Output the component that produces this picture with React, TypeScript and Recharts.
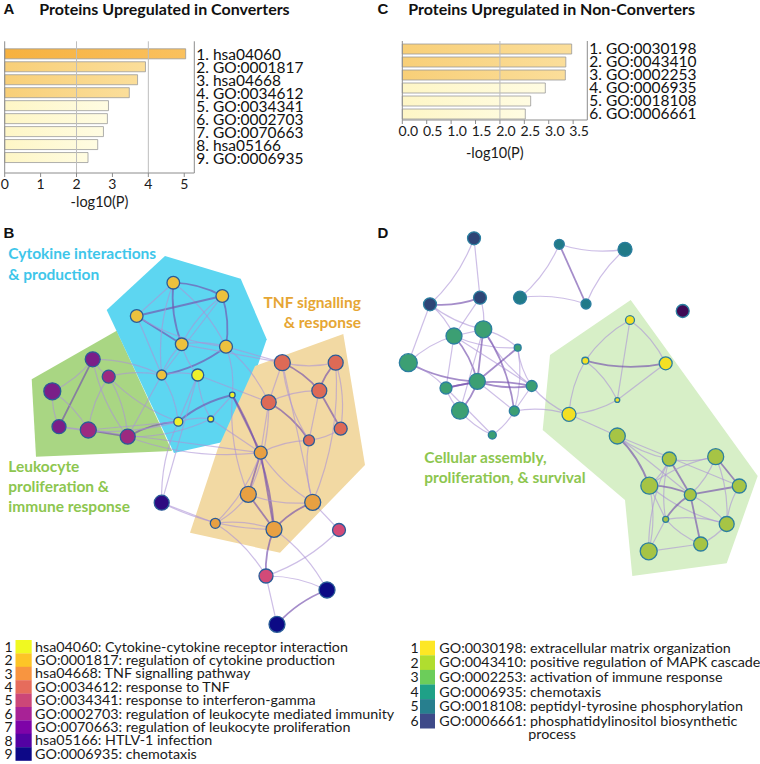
import React from 'react';
import {
  BarChart,
  Bar,
  XAxis,
  YAxis,
  ZAxis,
  Cell,
  ReferenceLine,
  ScatterChart,
  Scatter,
} from 'recharts';

// ---- panel A / C: enrichment bars ----
const termsA = ['hsa04060', 'GO:0001817', 'hsa04668', 'GO:0034612', 'GO:0034341', 'GO:0002703', 'GO:0070663', 'hsa05166', 'GO:0006935'];
const logPA = [5.04, 3.92, 3.7, 3.47, 2.89, 2.86, 2.75, 2.59, 2.32];
const ticksA = [0, 1, 2, 3, 4, 5];
const gridA = [2, 4];

const termsC = ['GO:0030198', 'GO:0043410', 'GO:0002253', 'GO:0006935', 'GO:0018108', 'GO:0006661'];
const logPC = [3.47, 3.35, 3.34, 2.93, 2.63, 2.52];
const ticksC = [0, 0.5, 1, 1.5, 2, 2.5, 3, 3.5];
const gridC = [2];

// ---- legends ----
const legendB = [
  'hsa04060: Cytokine-cytokine receptor interaction',
  'GO:0001817: regulation of cytokine production',
  'hsa04668: TNF signalling pathway',
  'GO:0034612: response to TNF',
  'GO:0034341: response to interferon-gamma',
  'GO:0002703: regulation of leukocyte mediated immunity',
  'GO:0070663: regulation of leukocyte proliferation',
  'hsa05166: HTLV-1 infection',
  'GO:0006935: chemotaxis',
];
const legendD = [
  'GO:0030198: extracellular matrix organization',
  'GO:0043410: positive regulation of MAPK cascade',
  'GO:0002253: activation of immune response',
  'GO:0006935: chemotaxis',
  'GO:0018108: peptidyl-tyrosine phosphorylation',
  'GO:0006661: phosphatidylinositol biosynthetic',
];

// ---- panel B network (layout coords, t = term cluster, z = node size) ----
const nodesB = [
  { x: 173.3, y: 282.7, t: 2, z: 40 },
  { x: 222.3, y: 296, t: 2, z: 40 },
  { x: 136.7, y: 316, t: 2, z: 40 },
  { x: 181.7, y: 344.3, t: 2, z: 40 },
  { x: 226, y: 346.7, t: 2, z: 42 },
  { x: 161.7, y: 375, t: 2, z: 25 },
  { x: 197.7, y: 375, t: 1, z: 36 },
  { x: 232.3, y: 395, t: 1, z: 8 },
  { x: 178.3, y: 421.7, t: 1, z: 20 },
  { x: 210.7, y: 419, t: 1, z: 9 },
  { x: 92.7, y: 359.3, t: 7, z: 56 },
  { x: 108.7, y: 376.7, t: 6, z: 42 },
  { x: 52.3, y: 391.3, t: 7, z: 72 },
  { x: 59, y: 426.7, t: 7, z: 49 },
  { x: 88.3, y: 430, t: 6, z: 64 },
  { x: 127.7, y: 436.7, t: 6, z: 56 },
  { x: 282.3, y: 362.7, t: 4, z: 64 },
  { x: 335.7, y: 362.7, t: 4, z: 56 },
  { x: 319.3, y: 390.7, t: 4, z: 56 },
  { x: 268.7, y: 402.3, t: 4, z: 56 },
  { x: 340.7, y: 428.7, t: 4, z: 42 },
  { x: 309, y: 440.3, t: 4, z: 30 },
  { x: 260.7, y: 452.7, t: 3, z: 42 },
  { x: 248.3, y: 494.3, t: 3, z: 64 },
  { x: 312.7, y: 502.3, t: 3, z: 64 },
  { x: 215.3, y: 523.3, t: 3, z: 25 },
  { x: 274, y: 529.3, t: 3, z: 64 },
  { x: 161.7, y: 502.7, t: 8, z: 56 },
  { x: 327, y: 590, t: 9, z: 64 },
  { x: 277, y: 624.3, t: 9, z: 64 },
  { x: 339, y: 530, t: 5, z: 42 },
  { x: 266, y: 576, t: 5, z: 49 },
];
const edgesB = [
  [0, 1, 2], [0, 2, 1], [0, 3, 2], [0, 4, 1], [1, 2, 2], [1, 3, 1], [1, 4, 2], [2, 3, 2], [2, 4, 1], [3, 4, 1],
  [2, 5, 1], [3, 5, 1], [4, 5, 2], [1, 5, 1], [0, 5, 1], [4, 7, 1], [4, 16, 1], [3, 6, 1], [5, 6, 1],
  [6, 8, 1], [6, 9, 1], [8, 9, 1], [7, 9, 1], [7, 8, 2], [5, 8, 1], [7, 22, 2], [7, 23, 1], [7, 26, 2],
  [9, 22, 1], [8, 15, 2], [8, 11, 1], [6, 19, 1],
  [10, 11, 1], [10, 12, 1], [10, 13, 2], [12, 13, 1], [12, 14, 1], [13, 14, 1], [11, 14, 1], [11, 15, 1],
  [14, 15, 2], [10, 15, 1], [11, 5, 1], [14, 8, 1], [13, 8, 1], [10, 5, 1], [15, 5, 1],
  [16, 17, 1], [16, 18, 2], [16, 19, 1], [17, 18, 2], [17, 20, 1], [18, 20, 2], [18, 19, 1], [19, 21, 2],
  [18, 21, 1], [16, 21, 1], [20, 21, 1], [19, 22, 1], [21, 22, 1], [19, 23, 1], [16, 24, 1], [21, 24, 1], [17, 24, 1],
  [22, 23, 2], [22, 24, 1], [22, 25, 1], [22, 26, 2], [23, 24, 1], [23, 25, 1], [23, 26, 2], [24, 26, 2],
  [25, 26, 1], [24, 30, 1], [26, 31, 2], [25, 31, 1],
  [27, 25, 1], [27, 26, 1], [27, 8, 1], [27, 6, 1], [31, 30, 1], [31, 28, 1], [31, 29, 1], [28, 29, 2],
  [26, 28, 1], [14, 22, 1], [15, 22, 1], [4, 19, 1], [3, 16, 1], [15, 9, 1],
];
const hullGreenB = [{ x: 31.7, y: 379.3 }, { x: 116.7, y: 330.7 }, { x: 172, y: 451 }, { x: 36, y: 456.7 }];
const hullCyanB = [{ x: 106.7, y: 310 }, { x: 165, y: 256 }, { x: 240.7, y: 278.7 }, { x: 266.7, y: 339.3 }, { x: 232, y: 440 }, { x: 174, y: 453 }];
const hullTanB = [{ x: 255, y: 366 }, { x: 343.3, y: 334 }, { x: 365, y: 465 }, { x: 280, y: 552.7 }, { x: 190, y: 532.7 }, { x: 218, y: 448 }];

// ---- panel D network ----
const nodesD = [
  { x: 474, y: 238.3, t: 6, z: 42 },
  { x: 430, y: 304.3, t: 6, z: 42 },
  { x: 480, y: 297.7, t: 6, z: 42 },
  { x: 559.3, y: 244.3, t: 5, z: 25 },
  { x: 625, y: 249.3, t: 5, z: 49 },
  { x: 520, y: 297.7, t: 5, z: 42 },
  { x: 586, y: 304, t: 5, z: 25 },
  { x: 682.7, y: 311, t: 7, z: 42 },
  { x: 454, y: 336, t: 4, z: 64 },
  { x: 483.3, y: 329.3, t: 4, z: 72 },
  { x: 408.3, y: 362.7, t: 4, z: 81 },
  { x: 517.7, y: 347.7, t: 4, z: 12 },
  { x: 477.3, y: 381.3, t: 4, z: 64 },
  { x: 446, y: 388, t: 4, z: 36 },
  { x: 531.7, y: 386, t: 4, z: 30 },
  { x: 460, y: 410.7, t: 4, z: 72 },
  { x: 514.3, y: 411, t: 4, z: 25 },
  { x: 492.3, y: 435, t: 4, z: 16 },
  { x: 630, y: 320, t: 1, z: 20 },
  { x: 585.3, y: 360.7, t: 1, z: 12 },
  { x: 665.7, y: 363.3, t: 1, z: 42 },
  { x: 617.3, y: 400, t: 1, z: 6 },
  { x: 569, y: 414.3, t: 1, z: 49 },
  { x: 617.3, y: 436, t: 2, z: 64 },
  { x: 669.3, y: 459, t: 2, z: 49 },
  { x: 715.7, y: 456.7, t: 2, z: 64 },
  { x: 649.3, y: 485.7, t: 2, z: 72 },
  { x: 690.3, y: 494.7, t: 2, z: 36 },
  { x: 739.3, y: 486, t: 2, z: 49 },
  { x: 665.7, y: 519.3, t: 2, z: 9 },
  { x: 726.7, y: 524, t: 2, z: 56 },
  { x: 700.7, y: 544, t: 2, z: 49 },
  { x: 648.7, y: 551.3, t: 2, z: 72 },
];
const edgesD = [
  [0, 1, 1], [0, 2, 1], [1, 2, 2], [1, 8, 1], [2, 8, 1], [1, 9, 1], [2, 9, 1], [1, 10, 1],
  [3, 4, 1], [3, 5, 1], [3, 6, 2], [4, 6, 1], [5, 6, 1],
  [8, 9, 1], [8, 10, 1], [8, 12, 2], [8, 13, 1], [8, 11, 1], [9, 11, 1], [9, 12, 2], [9, 14, 1], [9, 16, 2],
  [9, 15, 1], [10, 12, 2], [10, 13, 1], [11, 12, 2], [11, 14, 1], [11, 16, 1], [12, 13, 2], [12, 14, 2],
  [12, 15, 2], [12, 16, 1], [13, 15, 1], [13, 14, 2], [14, 16, 1], [15, 17, 1], [16, 17, 1], [13, 17, 1],
  [14, 22, 1], [16, 22, 1], [8, 14, 1],
  [18, 19, 1], [18, 20, 1], [18, 21, 1], [19, 20, 2], [19, 21, 1], [20, 21, 1], [19, 22, 1], [21, 22, 1], [22, 23, 1],
  [23, 24, 1], [23, 26, 2], [23, 27, 1], [24, 25, 1], [24, 26, 1], [24, 27, 2], [24, 29, 1], [25, 27, 1],
  [25, 28, 2], [25, 26, 1], [26, 27, 2], [26, 29, 1], [26, 30, 1], [26, 32, 1], [27, 28, 2], [27, 29, 2],
  [27, 30, 1], [27, 31, 2], [28, 30, 1], [29, 30, 1], [29, 32, 1], [29, 31, 1], [30, 31, 1], [31, 32, 1],
  [24, 32, 1], [25, 30, 1], [23, 28, 1],
];
const hullD = [
  { x: 550, y: 355 }, { x: 630.7, y: 300 }, { x: 757.7, y: 476 }, { x: 726.7, y: 563.3 },
  { x: 632.3, y: 576 }, { x: 625, y: 500 }, { x: 542.7, y: 430 },
];

const PLASMA = ['', '#F0F921', '#FDC527', '#F89540', '#E66C5C', '#CC4778', '#A82296', '#7E03A8', '#5302A3', '#0D0887'];
const VIRIDIS = ['', '#FDE725', '#B0DD2F', '#6CCD5A', '#1FA187', '#277F8E', '#3E4A89'];
const NODE_B = ['', '#EEF02C', '#EDC13E', '#E8A042', '#DD6A56', '#D24A78', '#9C2A80', '#7A1F88', '#2E0A80', '#0C0A85'];
const NODE_D = ['', '#F3E024', '#A6C445', '#6CC45A', '#3C9F73', '#217A88', '#2E4576', '#3F0A55'];

const AXIS = '#8c8c8c';

function barFill(id: string, v: number) {
  if (v >= 4.5) return `url(#${id}-deep)`;
  if (v >= 3) return `url(#${id}-mid)`;
  return `url(#${id}-pale)`;
}

function TermBars({ id, terms, values, ticks, grid, max, width, margin, labelWidth, xHeight, pad, tickDx, fmt }: any) {
  const data = terms.map((t: string, i: number) => ({ label: `${i + 1}. ${t}`, v: values[i] }));
  return (
    <BarChart layout="vertical" width={width} height={215} data={data} margin={margin} barSize={10}>
      <defs>
        <linearGradient id={`${id}-deep`} x1="0" y1="0" x2="1" y2="0">
          <stop offset="0%" stopColor="#F6B13F" />
          <stop offset="100%" stopColor="#FAC15E" />
        </linearGradient>
        <linearGradient id={`${id}-mid`} x1="0" y1="0" x2="1" y2="0">
          <stop offset="0%" stopColor="#F8CF78" />
          <stop offset="100%" stopColor="#FBDE9A" />
        </linearGradient>
        <linearGradient id={`${id}-pale`} x1="0" y1="0" x2="1" y2="0">
          <stop offset="0%" stopColor="#FEF6C6" />
          <stop offset="100%" stopColor="#FFFCE2" />
        </linearGradient>
      </defs>
      <XAxis
        type="number"
        dataKey="v"
        domain={[0, max]}
        ticks={ticks}
        interval={0}
        tickFormatter={fmt}
        height={xHeight}
        tickSize={4}
        tickLine={{ stroke: AXIS }}
        axisLine={{ stroke: AXIS }}
        tick={{ fontSize: 14, fill: '#1a1a1a', dx: tickDx }}
        label={{ value: '-log10(P)', position: 'insideBottom', offset: 0, fontSize: 14.5, fill: '#1a1a1a' }}
      />
      <XAxis
        xAxisId="frame"
        orientation="top"
        type="number"
        domain={[0, max]}
        height={0}
        tick={false}
        tickLine={false}
        axisLine={{ stroke: AXIS }}
      />
      <YAxis
        type="category"
        dataKey="label"
        orientation="right"
        width={labelWidth}
        interval={0}
        tickSize={0}
        tickMargin={2}
        padding={pad}
        axisLine={{ stroke: AXIS }}
        tick={{ fontSize: 15.5, fill: '#111', textAnchor: 'start' }}
      />
      <ReferenceLine x={0} stroke={AXIS} />
      {grid.map((g: number) => (
        <ReferenceLine key={g} x={g} stroke="#bdbdbd" />
      ))}
      <Bar dataKey="v" isAnimationActive={false} stroke="#9a9a9a" strokeWidth={0.8}>
        {data.map((d: any, i: number) => (
          <Cell key={i} fill={barFill(id, d.v)} />
        ))}
      </Bar>
    </BarChart>
  );
}

function EdgeLayer({ points, edges }: any) {
  if (!points) return <g />;
  return (
    <g>
      {edges.map(([a, b, w]: number[], i: number) => {
        const p = points[a];
        const q = points[b];
        if (!p || !q) return null;
        const k = ((i % 3) - 1) * 0.12;
        const cx = (p.x + q.x) / 2 - (q.y - p.y) * k;
        const cy = (p.y + q.y) / 2 + (q.x - p.x) * k;
        const heavy = w > 1;
        return (
          <path
            key={i}
            d={`M${p.x},${p.y} Q${cx},${cy} ${q.x},${q.y}`}
            fill="none"
            stroke={heavy ? '#7550AE' : '#AC93D6'}
            strokeOpacity={heavy ? 0.65 : 0.6}
            strokeWidth={heavy ? 1.8 : 1.2}
          />
        );
      })}
    </g>
  );
}

function Network({ nodes, edges, hulls, width, height, xDomain, yDomain, colors, ring }: any) {
  const nodeShape = (p: any) => {
    const r = p.width ? p.width / 2 : Math.sqrt(p.payload?.z ?? 25);
    return <circle cx={p.cx} cy={p.cy} r={r} fill={colors[p.payload.t]} stroke={ring} strokeWidth={1.3} />;
  };
  return (
    <ScatterChart width={width} height={height} margin={{ top: 0, right: 0, bottom: 0, left: 0 }}>
      <XAxis type="number" dataKey="x" domain={xDomain} hide />
      <YAxis type="number" dataKey="y" domain={yDomain} reversed hide />
      <ZAxis type="number" dataKey="z" domain={[0, 100]} range={[0, 100 * Math.PI]} />
      {hulls.map((h: any, i: number) => (
        <Scatter
          key={i}
          data={h.pts}
          isAnimationActive={false}
          shape={() => <g />}
          line={(lp: any) => (
            <polygon points={(lp.points || []).map((q: any) => `${q.x},${q.y}`).join(' ')} fill={h.fill} stroke="none" />
          )}
        />
      ))}
      <Scatter
        data={nodes}
        isAnimationActive={false}
        line={(lp: any) => <EdgeLayer points={lp.points} edges={edges} />}
        shape={nodeShape}
      />
    </ScatterChart>
  );
}

const LABEL_GREEN = '#8DC64F';

export default function App() {
  return (
    <div
      style={{
        position: 'absolute',
        left: 0,
        top: 0,
        width: 760,
        height: 764,
        background: '#fff',
        overflow: 'hidden',
        fontFamily: 'Lato, "Noto Sans", sans-serif',
      }}
    >
      <div style={{ position: 'absolute', left: 0, top: 0 }}>
        <TermBars
          id="ga"
          terms={termsA}
          values={logPA}
          ticks={ticksA}
          grid={gridA}
          max={5.28}
          width={330}
          margin={{ top: 41.3, left: 4.7, right: 0, bottom: 8 }}
          labelWidth={135.7}
          xHeight={34}
          pad={{ top: 6.5, bottom: 8.5 }}
          tickDx={0}
        />
      </div>
      <div style={{ position: 'absolute', left: 380, top: 0 }}>
        <TermBars
          id="gc"
          terms={termsC}
          values={logPC}
          ticks={ticksC}
          grid={gridC}
          max={3.79}
          width={380}
          margin={{ top: 41, left: 22.3, right: 0, bottom: 57 }}
          labelWidth={172.7}
          xHeight={38}
          pad={{ top: 1, bottom: 0 }}
          tickDx={6}
          fmt={(v: number) => v.toFixed(1)}
        />
      </div>
      <div style={{ position: 'absolute', left: 0, top: 210 }}>
        <Network
          nodes={nodesB}
          edges={edgesB}
          hulls={[
            { pts: hullGreenB, fill: '#A9D683' },
            { pts: hullCyanB, fill: '#5DD6F1' },
            { pts: hullTanB, fill: '#F2D9A3' },
          ]}
          width={380}
          height={430}
          xDomain={[0, 380]}
          yDomain={[210, 640]}
          colors={NODE_B}
          ring="#2A5C98"
        />
      </div>
      <div style={{ position: 'absolute', left: 380, top: 210 }}>
        <Network
          nodes={nodesD}
          edges={edgesD}
          hulls={[{ pts: hullD, fill: '#D7EFC7' }]}
          width={380}
          height={400}
          xDomain={[380, 760]}
          yDomain={[210, 610]}
          colors={NODE_D}
          ring="#2C7FA0"
        />
      </div>

      <svg
        width={760}
        height={764}
        style={{ position: 'absolute', left: 0, top: 0, pointerEvents: 'none' }}
      >
        <g fontFamily='"Liberation Sans", Arial, sans-serif' fontWeight="bold" fontSize={15} fill="#111">
          <text x={3.5} y={14}>A</text>
          <text x={377.5} y={14}>C</text>
          <text x={3.5} y={238.3}>B</text>
          <text x={377.5} y={238.3}>D</text>
        </g>
        <g fontFamily="Lato, sans-serif" fontWeight="bold" fontSize={16} fill="#111">
          <text x={39.3} y={14.5}>Proteins Upregulated in Converters</text>
          <text x={408.3} y={14.5}>Proteins Upregulated in Non-Converters</text>
        </g>
        <g fontFamily="Lato, sans-serif" fontWeight="bold" fontSize={15.5}>
          <text x={8.3} y={259.3} fill="#3EC6EA">Cytokine interactions</text>
          <text x={8.3} y={280} fill="#3EC6EA">&amp; production</text>
          <text x={361} y={308.3} fill="#E6A634" textAnchor="end">TNF signalling</text>
          <text x={361} y={328.3} fill="#E6A634" textAnchor="end">&amp; response</text>
          <text x={8.3} y={471.7} fill={LABEL_GREEN}>Leukocyte</text>
          <text x={8.3} y={491.7} fill={LABEL_GREEN}>proliferation &amp;</text>
          <text x={8.3} y={512.3} fill={LABEL_GREEN}>immune response</text>
          <text x={424.3} y={462.7} fill={LABEL_GREEN}>Cellular assembly,</text>
          <text x={424.3} y={482.7} fill={LABEL_GREEN}>proliferation, &amp; survival</text>
        </g>
        <g fontFamily="Lato, sans-serif" fill="#1a1a1a">
          {legendB.map((s, i) => {
            const cy = 646.7 + i * 13.4;
            return (
              <g key={s}>
                <rect x={15.5} y={cy - 6.7} width={16.2} height={13.6} fill={PLASMA[i + 1]} />
                <text x={4.5} y={cy + 5} fontSize={14}>{i + 1}</text>
                <text x={35} y={cy + 4.8} fontSize={14.3}>{s}</text>
              </g>
            );
          })}
          {legendD.map((s, i) => {
            const cy = 648 + i * 14.6;
            return (
              <g key={s}>
                <rect x={420} y={cy - 7.3} width={15} height={14.8} fill={VIRIDIS[i + 1]} />
                <text x={410.5} y={cy + 5} fontSize={14}>{i + 1}</text>
                <text x={439.3} y={cy + 4.8} fontSize={14.3}>{s}</text>
              </g>
            );
          })}
          <text x={528.3} y={739} fontSize={14.3}>process</text>
        </g>
      </svg>
    </div>
  );
}
